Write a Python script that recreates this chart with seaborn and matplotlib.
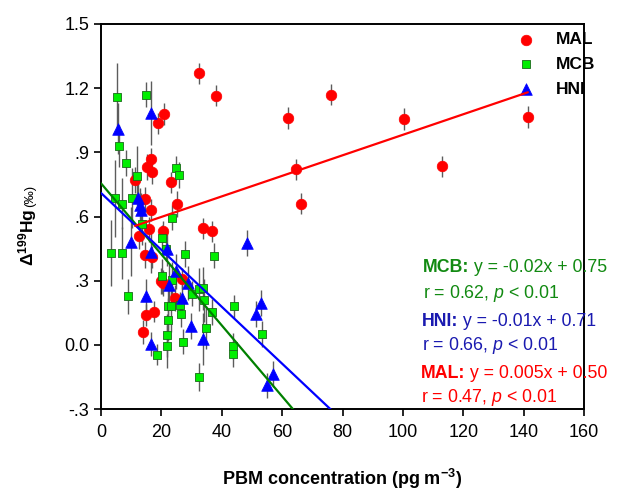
import numpy as np
import pandas as pd
import matplotlib
matplotlib.use("Agg")
import matplotlib.pyplot as plt
import seaborn as sns

sns.set_theme(style="white")
plt.rcParams['font.family'] = ['Liberation Sans', 'DejaVu Sans']
plt.rcParams['mathtext.fontset'] = 'custom'
plt.rcParams['mathtext.rm'] = 'Liberation Sans'
plt.rcParams['mathtext.it'] = 'Liberation Sans:italic'
plt.rcParams['mathtext.bf'] = 'Liberation Sans:bold'
for k in ['text.color', 'axes.labelcolor', 'xtick.color', 'ytick.color', 'axes.edgecolor']:
    plt.rcParams[k] = 'black'

# ---------------- data ----------------
mal_x = [32.4, 38.2, 62.0, 64.5, 66.4, 76.2, 100.3, 112.8, 141.4, 21.0, 18.8, 16.4, 15.1,
         16.8, 11.3, 23.2, 14.6, 25.1, 16.5, 15.9, 12.6, 20.4, 33.9, 36.9, 14.6, 16.8,
         19.9, 20.4, 26.7, 24.5, 14.8, 17.5, 13.8]
mal_y = [1.27, 1.165, 1.06, 0.82, 0.66, 1.17, 1.055, 0.835, 1.065, 1.08, 1.035, 0.87, 0.83,
         0.81, 0.77, 0.76, 0.68, 0.66, 0.63, 0.54, 0.51, 0.53, 0.545, 0.53, 0.42, 0.41,
         0.30, 0.29, 0.31, 0.22, 0.14, 0.155, 0.06]
mal_err = [0.05, 0.05, 0.05, 0.05, 0.05, 0.05, 0.05, 0.05, 0.05, 0.05, 0.05, 0.05, 0.06,
           0.06, 0.06, 0.05, 0.06, 0.06, 0.05, 0.06, 0.06, 0.05, 0.05, 0.05, 0.06, 0.05,
           0.06, 0.06, 0.05, 0.06, 0.05, 0.05, 0.055]

mcb_x = [5.3, 14.8, 6.1, 8.2, 11.9, 25.0, 25.7, 4.6, 7.1, 10.4, 13.5, 23.6, 20.1, 21.5,
         3.3, 6.8, 27.8, 37.4, 20.2, 23.5, 8.8, 30.0, 32.3, 33.9, 34.1, 22.1, 23.3, 26.3,
         36.9, 43.9, 26.5, 22.3, 34.7, 53.4, 22.0, 27.3, 21.7, 18.6, 43.8, 43.6, 32.5]
mcb_y = [1.157, 1.17, 0.93, 0.85, 0.79, 0.825, 0.795, 0.685, 0.66, 0.685, 0.565, 0.595,
         0.50, 0.45, 0.43, 0.43, 0.425, 0.417, 0.32, 0.305, 0.226, 0.24, 0.26, 0.265,
         0.208, 0.18, 0.18, 0.185, 0.155, 0.18, 0.145, 0.117, 0.08, 0.05, 0.045, 0.015,
         -0.007, -0.046, -0.006, -0.045, -0.152]
mcb_err = [0.16, 0.06, 0.10, 0.06, 0.14, 0.06, 0.06, 0.18, 0.12, 0.14, 0.10, 0.06, 0.06,
           0.06, 0.155, 0.12, 0.06, 0.06, 0.08, 0.08, 0.08, 0.06, 0.10, 0.10, 0.10, 0.12,
           0.12, 0.06, 0.06, 0.055, 0.06, 0.10, 0.10, 0.06, 0.10, 0.06, 0.10, 0.05, 0.06,
           0.06, 0.066]

hni_x = [5.7, 16.6, 12.1, 12.9, 13.2, 10.1, 16.5, 21.7, 48.2, 24.8, 22.6, 28.7, 26.7,
         14.8, 53.0, 51.5, 29.9, 33.9, 16.6, 57.1, 55.1]
hni_y = [1.01, 1.085, 0.685, 0.655, 0.63, 0.483, 0.436, 0.45, 0.475, 0.343, 0.28, 0.288,
         0.22, 0.23, 0.195, 0.143, 0.087, 0.027, 0.005, -0.137, -0.19]
hni_err = [0.12, 0.15, 0.08, 0.08, 0.08, 0.16, 0.10, 0.08, 0.06, 0.08, 0.10, 0.08,
           0.08, 0.08, 0.06, 0.06, 0.06, 0.12, 0.055, 0.06, 0.06]

# regression lines (slope, intercept) as drawn
fit_mcb = (-0.0166, 0.755)
fit_hni = (-0.0133, 0.710)
fit_mal = (0.0048, 0.502)

x_ticks = [0, 20, 40, 60, 80, 100, 120, 140, 160]
y_ticks = [-0.3, 0.0, 0.3, 0.6, 0.9, 1.2, 1.5]
y_tick_labels = ['-.3', '0.0', '.3', '.6', '.9', '1.2', '1.5']

df = pd.concat([
    pd.DataFrame({'x': mal_x, 'y': mal_y, 'err': mal_err, 'site': 'MAL'}),
    pd.DataFrame({'x': mcb_x, 'y': mcb_y, 'err': mcb_err, 'site': 'MCB'}),
    pd.DataFrame({'x': hni_x, 'y': hni_y, 'err': hni_err, 'site': 'HNI'}),
], ignore_index=True)

# ---------------- figure ----------------
W, H = 635, 492
fig = plt.figure(figsize=(W/100, H/100), dpi=100)
ax = fig.add_axes([101/W, 1-409/H, (584-101)/W, (409-24)/H])

ax.errorbar(df['x'], df['y'], yerr=df['err'], fmt='none', ecolor='#5c5c5c',
            elinewidth=1.0, capsize=0, zorder=1)

styles = {
    'MAL': dict(marker='o', s=58, color='#ff0000', edgecolor='#ff0000', linewidth=0.5),
    'MCB': dict(marker='s', s=32, color='#00ee00', edgecolor='#1a6a1a', linewidth=0.6),
    'HNI': dict(marker='^', s=70, color='#0000ff', edgecolor='#0000ff', linewidth=0.5),
}
for z, site in enumerate(['MAL', 'MCB', 'HNI']):
    sub = df[df['site'] == site]
    sns.scatterplot(data=sub, x='x', y='y', ax=ax, label=site, zorder=2 + z,
                    **styles[site])

xr = np.array([0, 160])
ax.plot(xr, fit_mcb[0] * xr + fit_mcb[1], color='#008000', lw=1.6, zorder=6)
ax.plot(xr, fit_hni[0] * xr + fit_hni[1], color='#0000ff', lw=1.6, zorder=6)
xm = np.array([min(mal_x), max(mal_x)])
ax.plot(xm, fit_mal[0] * xm + fit_mal[1], color='#ff0000', lw=1.6, zorder=6)

ax.set_xlim(0, 160)
ax.set_ylim(-0.3, 1.5)
ax.set_xticks(x_ticks)
ax.set_xticklabels([str(t) for t in x_ticks])
ax.set_yticks(y_ticks)
ax.set_yticklabels(y_tick_labels)
ax.tick_params(axis='both', which='major', direction='out', length=5, width=1.2,
               labelsize=13, colors='black', bottom=True, left=True, top=False, right=False)
ax.tick_params(axis='x', pad=6)
for sp in ax.spines.values():
    sp.set_visible(True)
    sp.set_color('black')
    sp.set_linewidth(1.4)
ax.grid(False)
ax.set_xlabel('')
ax.set_ylabel('')

renderer = fig.canvas.get_renderer()

# axis labels
fig.text(342/W, 1-479/H, r'PBM concentration (pg m$^{\mathbf{-3}}$)', fontsize=13,
         fontweight='bold', ha='center', va='center')
yl = fig.text(28/W, 1-266/H, r'Δ$^{\mathbf{199}}$Hg', fontsize=12.5, fontweight='bold',
              rotation=90, ha='center', va='bottom')
bb = yl.get_window_extent(renderer)
fig.text(30/W, (bb.y1 + 2)/H, '(‰)', fontsize=9.5, rotation=90, ha='center', va='bottom')

# legend
handles, labels = ax.get_legend_handles_labels()
leg = ax.legend(handles, labels, loc='upper left', bbox_to_anchor=(512/W, 1-32/H),
                bbox_transform=fig.transFigure, frameon=False,
                prop={'weight': 'bold', 'size': 12.5},
                handletextpad=0.95, labelspacing=0.55, borderaxespad=0, borderpad=0,
                handlelength=1.6)

# annotations: bold prefix followed by normal text
ann = [
    (423, 268, 'MCB:', ' y = -0.02x + 0.75', '#128a12'),
    (423, 293, '', r'r = 0.62, $\it{p}$ < 0.01', '#128a12'),
    (422, 321, 'HNI:', ' y = -0.01x + 0.71', '#1a1ab0'),
    (422, 345, '', r'r = 0.66, $\it{p}$ < 0.01', '#1a1ab0'),
    (421, 373, 'MAL:', ' y = 0.005x + 0.50', '#ff0000'),
    (421, 397, '', r'r = 0.47, $\it{p}$ < 0.01', '#ff0000'),
]
for px, py, bold, rest, col in ann:
    x0 = px
    if bold:
        t = fig.text(px/W, 1-py/H, bold, fontsize=12.8, fontweight='bold', color=col,
                     ha='left', va='center')
        x0 = t.get_window_extent(renderer).x1
    fig.text(x0/W, 1-py/H, rest, fontsize=12.8, color=col, ha='left', va='center')

fig.savefig('out.png', dpi=100)
